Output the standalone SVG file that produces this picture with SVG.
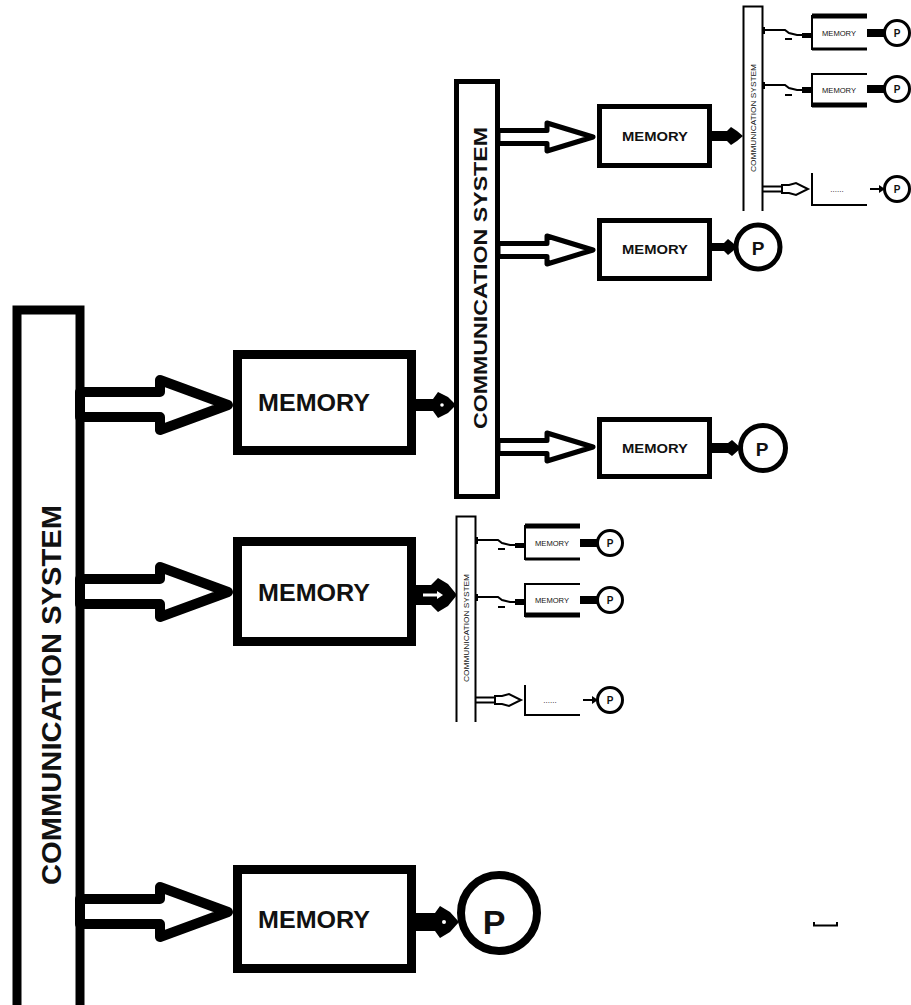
<svg xmlns="http://www.w3.org/2000/svg" width="911" height="1005" viewBox="0 0 911 1005">
<defs>
<style>
.bg{fill:#fff}
.thick{fill:#fff;stroke:#000;stroke-width:9}
.med{fill:#fff;stroke:#000;stroke-width:5}
.thin{fill:none;stroke:#000;stroke-width:2}
.bigarrow{fill:#fff;stroke:#000;stroke-width:10;stroke-linejoin:round}
.medarrow{fill:#fff;stroke:#000;stroke-width:5;stroke-linejoin:round}
.blk{fill:#000}
.t{font-family:"Liberation Sans",Arial,sans-serif;fill:#111}
.tb{font-family:"Liberation Sans",Arial,sans-serif;font-weight:bold;fill:#111}
</style>
</defs>
<rect class="bg" x="0" y="0" width="911" height="1005"/>

<!-- big communication bar -->
<g id="comm-main">
<rect class="thick" x="17" y="310" width="63" height="710" stroke-width="10"/>
<text class="tb" transform="translate(61,695) rotate(-90)" text-anchor="middle" font-size="27" textLength="380" lengthAdjust="spacingAndGlyphs">COMMUNICATION SYSTEM</text>
</g>

<!-- big memories -->
<g id="memory-1">
<rect class="thick" x="237.5" y="354.5" width="174" height="96"/>
<text class="tb" x="314" y="411" text-anchor="middle" font-size="23" textLength="112" lengthAdjust="spacingAndGlyphs">MEMORY</text>
</g>
<g id="memory-2">
<rect class="thick" x="237.5" y="541.5" width="174" height="100"/>
<text class="tb" x="314" y="601" text-anchor="middle" font-size="23" textLength="112" lengthAdjust="spacingAndGlyphs">MEMORY</text>
</g>
<g id="memory-3">
<rect class="thick" x="237.5" y="869.5" width="174" height="99"/>
<text class="tb" x="314" y="928" text-anchor="middle" font-size="23" textLength="112" lengthAdjust="spacingAndGlyphs">MEMORY</text>
</g>
<g id="p-big">
<circle cx="499" cy="913" r="38" fill="#fff" stroke="#000" stroke-width="8"/>
<text class="tb" x="494" y="934" text-anchor="middle" font-size="34">P</text>
</g>

<!-- middle communication bar -->
<g id="comm-mid">
<rect class="med" x="456.5" y="81.5" width="41" height="415"/>
<text class="tb" transform="translate(487,278) rotate(-90)" text-anchor="middle" font-size="18" textLength="302" lengthAdjust="spacingAndGlyphs">COMMUNICATION SYSTEM</text>
</g>

<!-- small memories -->
<g id="memory-1a">
<rect class="med" x="599.5" y="106.5" width="110" height="59"/>
<text class="tb" x="655" y="141" text-anchor="middle" font-size="13" textLength="66" lengthAdjust="spacingAndGlyphs">MEMORY</text>
</g>
<g id="memory-1b">
<rect class="med" x="599.5" y="220.5" width="110" height="58"/>
<text class="tb" x="655" y="254" text-anchor="middle" font-size="13" textLength="66" lengthAdjust="spacingAndGlyphs">MEMORY</text>
</g>
<g id="memory-1c">
<rect class="med" x="599.5" y="419.5" width="110" height="57"/>
<text class="tb" x="655" y="453" text-anchor="middle" font-size="13" textLength="66" lengthAdjust="spacingAndGlyphs">MEMORY</text>
</g>
<g id="p-1b">
<circle cx="758" cy="247" r="22" fill="#fff" stroke="#000" stroke-width="5"/>
<text class="tb" x="758" y="255" text-anchor="middle" font-size="19">P</text>
</g>
<g id="p-1c">
<circle cx="763" cy="448" r="22.5" fill="#fff" stroke="#000" stroke-width="5"/>
<text class="tb" x="762" y="456" text-anchor="middle" font-size="19">P</text>
</g>

<!-- small sub-system top right -->
<g id="sub-top" transform="translate(742,5)">
<path class="thin" d="M1.5,206 V1.5 H20.5 V206" stroke-width="3"/>
<text class="t" transform="translate(14,113) rotate(-90)" text-anchor="middle" font-size="6.5" textLength="108" lengthAdjust="spacingAndGlyphs">COMMUNICATION SYSTEM</text>
<g id="sub-top-mem1">
<path class="thin" d="M70,10 V45"/>
<path d="M70,11 H125" stroke="#000" stroke-width="5"/>
<path d="M70,44 H125" stroke="#000" stroke-width="3"/>
<text class="t" x="97" y="31" text-anchor="middle" font-size="7" textLength="34" lengthAdjust="spacingAndGlyphs">MEMORY</text>
</g>
<g id="sub-top-mem2">
<path class="thin" d="M70,68 V102"/>
<path d="M70,69 H125" stroke="#000" stroke-width="2"/>
<path d="M70,100 H125" stroke="#000" stroke-width="5"/>
<text class="t" x="97" y="88" text-anchor="middle" font-size="7" textLength="34" lengthAdjust="spacingAndGlyphs">MEMORY</text>
</g>
<g id="sub-top-mem3">
<path class="thin" d="M70,168 V200 H125"/>
<text class="t" x="95" y="187" text-anchor="middle" font-size="8">......</text>
</g>
<g id="sub-top-p1"><circle cx="155" cy="28" r="12.5" fill="#fff" stroke="#000" stroke-width="3"/><text class="tb" x="155" y="32" text-anchor="middle" font-size="10">P</text></g>
<g id="sub-top-p2"><circle cx="155" cy="84" r="12.5" fill="#fff" stroke="#000" stroke-width="3"/><text class="tb" x="155" y="88" text-anchor="middle" font-size="10">P</text></g>
<g id="sub-top-p3"><circle cx="155" cy="184" r="12.5" fill="#fff" stroke="#000" stroke-width="3"/><text class="tb" x="155" y="188" text-anchor="middle" font-size="10">P</text></g>
<g class="sub-conn">
<path class="thin" d="M21,25 H43 L47,28 L55,30 H60" stroke-width="1.5"/>
<rect class="blk" x="60" y="28" width="9" height="5"/>
<path class="thin" d="M43,34 H50" stroke-width="1.5"/>
<rect class="blk" x="20" y="22" width="3" height="7"/>
<path class="thin" d="M21,80 H43 L47,83 L55,85 H60" stroke-width="1.5"/>
<rect class="blk" x="60" y="82" width="9" height="6"/>
<path class="thin" d="M43,90 H50" stroke-width="1.5"/>
<rect class="blk" x="20" y="77" width="3" height="7"/>
<path d="M21,181.5 H42 M21,186.5 H42" stroke="#000" stroke-width="2"/>
<path d="M40,180 L47,180 L54,178 L66,184 L54,190 L47,188 L40,188 Z" fill="#fff" stroke="#000" stroke-width="2"/>
<rect class="blk" x="125" y="24" width="17" height="8"/>
<rect class="blk" x="125" y="80" width="17" height="8"/>
<path class="thin" d="M128,184 H140" stroke-width="1.5"/>
<path class="blk" d="M137,180 L143,184 L137,188 Z"/>
</g>
</g>

<!-- small sub-system middle -->
<g id="sub-mid" transform="translate(455,515)">
<path class="thin" d="M1.5,207 V1.5 H20.5 V207" stroke-width="3"/>
<text class="t" transform="translate(14,113) rotate(-90)" text-anchor="middle" font-size="6.5" textLength="108" lengthAdjust="spacingAndGlyphs">COMMUNICATION SYSTEM</text>
<g id="sub-mid-mem1">
<path class="thin" d="M70,10 V45"/>
<path d="M70,11 H125" stroke="#000" stroke-width="5"/>
<path d="M70,44 H125" stroke="#000" stroke-width="3"/>
<text class="t" x="97" y="31" text-anchor="middle" font-size="7" textLength="34" lengthAdjust="spacingAndGlyphs">MEMORY</text>
</g>
<g id="sub-mid-mem2">
<path class="thin" d="M70,68 V102"/>
<path d="M70,69 H125" stroke="#000" stroke-width="2"/>
<path d="M70,100 H125" stroke="#000" stroke-width="5"/>
<text class="t" x="97" y="88" text-anchor="middle" font-size="7" textLength="34" lengthAdjust="spacingAndGlyphs">MEMORY</text>
</g>
<g id="sub-mid-mem3">
<path class="thin" d="M70,170 V200 H125"/>
<text class="t" x="95" y="188" text-anchor="middle" font-size="8">......</text>
</g>
<g id="sub-mid-p1"><circle cx="155" cy="28" r="12.5" fill="#fff" stroke="#000" stroke-width="3"/><text class="tb" x="155" y="32" text-anchor="middle" font-size="10">P</text></g>
<g id="sub-mid-p2"><circle cx="155" cy="85" r="12.5" fill="#fff" stroke="#000" stroke-width="3"/><text class="tb" x="155" y="89" text-anchor="middle" font-size="10">P</text></g>
<g id="sub-mid-p3"><circle cx="155" cy="185" r="12.5" fill="#fff" stroke="#000" stroke-width="3"/><text class="tb" x="155" y="189" text-anchor="middle" font-size="10">P</text></g>
<g class="sub-conn">
<path class="thin" d="M21,25 H43 L47,28 L55,30 H60" stroke-width="1.5"/>
<rect class="blk" x="60" y="28" width="9" height="5"/>
<path class="thin" d="M43,34 H50" stroke-width="1.5"/>
<rect class="blk" x="20" y="22" width="3" height="7"/>
<path class="thin" d="M21,82 H43 L47,85 L55,87 H60" stroke-width="1.5"/>
<rect class="blk" x="60" y="84" width="9" height="6"/>
<path class="thin" d="M43,92 H50" stroke-width="1.5"/>
<rect class="blk" x="20" y="79" width="3" height="7"/>
<path d="M21,182.5 H42 M21,187.5 H42" stroke="#000" stroke-width="2"/>
<path d="M40,181 L47,181 L54,179 L66,185 L54,191 L47,189 L40,189 Z" fill="#fff" stroke="#000" stroke-width="2"/>
<rect class="blk" x="125" y="24" width="17" height="8"/>
<rect class="blk" x="125" y="81" width="17" height="8"/>
<path class="thin" d="M128,185 H140" stroke-width="1.5"/>
<path class="blk" d="M137,181 L143,185 L137,189 Z"/>
</g>
</g>

<!-- connectors -->
<g id="connectors">
<polygon class="bigarrow" points="80,392 160,392 160,380 228,405 160,430 160,417 80,417"/>
<polygon class="bigarrow" points="80,579 160,579 160,567 228,592 160,617 160,604 80,604"/>
<polygon class="bigarrow" points="80,899 160,899 160,887 228,912 160,937 160,924 80,924"/>

<polygon class="medarrow" points="498,130.5 547,130.5 547,123 593,137 547,151 547,143.5 498,143.5"/>
<polygon class="medarrow" points="498,243.5 547,243.5 547,236 593,250 547,264 547,256.5 498,256.5"/>
<polygon class="medarrow" points="498,440.5 547,440.5 547,433 593,447 547,461 547,453.5 498,453.5"/>

<path class="blk" d="M414,399 H433 L438,392 L448,397 L456,405 L448,413 L438,418 L433,411 H414 Z"/>
<circle cx="442" cy="405" r="1.8" fill="#fff"/>
<path class="blk" d="M414,585 H431 L438,578 L448,584 L457,595 L448,606 L438,612 L431,605 H414 Z"/>
<path d="M423,595 H438" stroke="#fff" stroke-width="3"/>
<path d="M437,591 L443,595 L437,599 Z" fill="#fff"/>
<path class="blk" d="M414,913 H435 L440,906 L450,912 L459,922 L450,932 L440,938 L435,931 H414 Z"/>
<circle cx="444" cy="922" r="2" fill="#fff"/>

<path class="blk" d="M709,131 H727 L731,127 L737,131 L743,136 L737,141 L731,145 L727,141 H709 Z"/>
<path class="blk" d="M709,243 H724 L728,239 L733,243 L737,247 L733,251 L728,255 L724,251 H709 Z"/>
<path class="blk" d="M709,443 H728 L732,440 L741,448 L732,456 L728,453 H709 Z"/>
</g>

<g id="mark">
<path d="M814,922 V925.5 H837 V922" fill="none" stroke="#000" stroke-width="2"/>
</g>
</svg>
